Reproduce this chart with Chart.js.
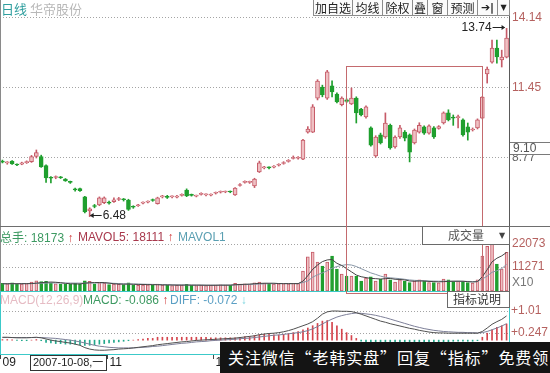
<!DOCTYPE html>
<html><head><meta charset="utf-8">
<script src="https://cdn.jsdelivr.net/npm/chart.js@4.4.1/dist/chart.umd.min.js"></script>
<style>
html,body{margin:0;padding:0;background:#fff;}
#wrap{position:relative;width:550px;height:373px;overflow:hidden;font-family:"Liberation Sans",Arial,"Noto Sans CJK SC",sans-serif;}
#c{position:absolute;left:0;top:0;}
.t{position:absolute;white-space:nowrap;font-size:12px;line-height:14px;}
.cjk{font-family:"Noto Sans CJK SC",sans-serif;}
.btn{position:absolute;top:-1px;height:17px;box-sizing:border-box;border:1px solid #8c8c8c;background:#fbfbfb;font-family:"Noto Sans CJK SC",sans-serif;font-size:12px;line-height:15px;text-align:center;color:#222;}
.box{position:absolute;box-sizing:border-box;border:1px solid #6a6a6a;background:#fff;}
#banner{position:absolute;left:220px;top:342px;width:330px;height:31px;background:#141414;color:#fff;font-family:"Noto Sans CJK SC",sans-serif;font-size:16px;letter-spacing:0.9px;line-height:30px;padding-left:8px;box-sizing:border-box;white-space:nowrap;overflow:hidden;}
</style></head><body>
<div id="wrap">
<canvas id="c" width="550" height="373"></canvas>
<div class="t cjk" style="left:1px;top:1px;font-size:13px;line-height:16px;color:#2f9e9e;">日线</div>
<div class="t cjk" style="left:30px;top:1px;font-size:13px;line-height:16px;color:#b8b8b8;">华帝股份</div>
<div class="btn" style="left:313px;width:40px;">加自选</div>
<div class="btn" style="left:352px;width:31px;">均线</div>
<div class="btn" style="left:382px;width:31px;">除权</div>
<div class="btn" style="left:412px;width:16px;">叠</div>
<div class="btn" style="left:427px;width:21px;">窗</div>
<div class="btn" style="left:447px;width:31px;">预测</div>
<div class="btn" style="left:477px;width:21px;font-weight:bold;font-family:'DejaVu Sans';font-size:11px;">➔|</div>
<div class="btn" style="left:497px;width:13px;font-family:'DejaVu Sans';font-size:8px;">▼</div>

<div class="t" style="left:0px;top:230px;color:#3d9a62;"><span class="cjk">总手</span>: 18173<span style="color:#d03838;font-weight:bold;"> ↑</span></div>
<div class="t" style="left:78px;top:230px;color:#a8384c;">MAVOL5: 18111<span style="color:#d03838;font-weight:bold;"> ↑</span></div>
<div class="t" style="left:178px;top:230px;width:47px;overflow:hidden;color:#5a9fb2;">MAVOL10</div>

<div class="box" style="left:422px;top:226px;width:88px;height:19px;"></div>
<div class="t cjk" style="left:448px;top:228px;color:#555;">成交量</div>
<div class="t" style="left:499px;top:229px;color:#444;font-family:'DejaVu Sans';font-size:8px;">▼</div>

<div class="t" style="left:0px;top:293px;color:#e6bcc4;">MACD(12,26,9)</div>
<div class="t" style="left:83px;top:293px;color:#3d9a62;">MACD: -0.086<span style="color:#d03838;font-weight:bold;"> ↑</span></div>
<div class="t" style="left:170px;top:293px;color:#5a9fc4;">DIFF: -0.072<span style="color:#7fd6e0;font-weight:bold;"> ↓</span></div>

<div class="box" style="left:447px;top:291px;width:63px;height:17px;"></div>
<div class="t cjk" style="left:453px;top:292px;color:#333;">指标说明</div>

<div id="banner">关注微信“老韩实盘”回复“指标”免费领</div>
</div>
<script>
// ---- data ----
const opens = [8.60,8.55,8.62,8.48,8.50,8.56,8.60,8.80,8.80,8.45,
 7.97,7.99,8.00,7.93,7.82,7.52,7.56,7.24,6.70,6.88,
 6.93,7.02,7.02,7.06,7.14,7.15,7.12,6.86,6.90,7.00,
 7.04,7.12,6.98,7.24,7.26,7.24,7.23,7.30,7.50,7.31,
 7.27,7.34,7.32,7.31,7.38,7.42,7.43,7.44,7.32,7.68,
 7.80,7.80,7.66,8.20,8.36,8.37,8.39,8.46,8.53,8.61,
 8.72,8.73,8.70,9.74,9.74,11.05,11.48,11.05,11.52,11.21,
 10.80,10.98,10.83,11.05,10.63,10.32,9.90,8.82,9.63,9.55,
 10.00,9.17,9.55,9.74,9.63,9.32,9.74,9.94,9.70,9.90,
 9.88,10.09,10.48,10.32,10.30,10.21,9.94,9.82,9.90,10.28,
 11.98,12.44,12.98,12.52,12.63];
const closes = [8.58,8.56,8.51,8.47,8.55,8.60,8.80,8.95,8.40,7.97,
 7.96,8.00,7.98,7.86,7.80,7.51,7.48,6.66,6.78,6.87,
 7.20,7.20,7.00,7.13,7.14,7.13,6.76,6.84,6.91,7.01,
 7.05,7.10,7.20,7.25,7.22,7.24,7.26,7.32,7.28,7.30,
 7.27,7.36,7.32,7.33,7.40,7.43,7.44,7.43,7.58,7.71,
 7.82,7.81,7.93,8.55,8.38,8.36,8.41,8.48,8.56,8.64,
 8.76,8.77,9.43,9.86,10.71,11.71,11.17,12.06,11.29,10.90,
 11.05,10.92,11.05,10.48,10.40,10.71,9.24,9.55,9.32,10.09,
 9.13,9.55,9.90,9.51,8.97,9.82,10.00,9.70,9.98,9.55,
 9.95,10.48,10.21,10.28,10.33,9.63,9.74,9.86,10.21,11.09,
 12.17,12.98,12.64,12.63,13.37];
const highs = [8.66,8.60,8.64,8.52,8.58,8.63,8.84,9.05,8.85,8.48,
 8.02,8.05,8.03,7.95,7.85,7.58,7.58,7.26,6.82,6.95,
 7.24,7.24,7.08,7.20,7.22,7.18,7.15,6.90,6.95,7.05,
 7.09,7.16,7.23,7.30,7.30,7.28,7.30,7.36,7.55,7.35,
 7.31,7.40,7.36,7.36,7.43,7.47,7.47,7.47,7.60,7.75,
 7.86,7.85,7.96,8.62,8.42,8.40,8.45,8.52,8.60,8.68,
 8.82,8.80,9.46,9.95,10.80,11.76,11.55,12.12,11.72,11.25,
 11.10,11.02,11.44,11.10,10.66,10.75,9.94,9.60,9.70,10.48,
 10.05,9.60,10.00,9.80,9.67,9.86,10.10,9.98,10.02,9.95,
 9.99,10.52,10.60,10.40,10.40,10.25,10.09,9.90,10.25,11.12,
 12.25,13.29,13.29,12.90,13.74];
const lows = [8.55,8.50,8.49,8.44,8.48,8.53,8.57,8.74,8.38,7.80,
 7.78,7.94,7.95,7.84,7.76,7.46,7.45,6.62,6.48,6.82,
 6.90,6.98,6.96,7.03,7.10,7.08,6.72,6.80,6.87,6.97,
 7.01,7.07,6.96,7.20,7.18,7.20,7.20,7.27,7.25,7.27,
 7.24,7.31,7.28,7.28,7.35,7.39,7.40,7.40,7.30,7.65,
 7.77,7.76,7.60,8.18,8.32,8.32,8.36,8.43,8.50,8.58,
 8.70,8.70,8.68,9.70,9.72,10.98,11.10,11.00,11.10,10.86,
 10.75,10.88,10.80,10.09,10.36,10.28,9.20,8.77,9.28,9.50,
 9.08,9.12,9.50,9.40,8.59,9.28,9.70,9.65,9.66,9.50,
 9.85,10.05,10.17,10.00,9.90,9.58,9.43,9.78,9.86,10.25,
 11.63,12.40,12.40,12.25,12.60];
const volumes = [3600,3400,3800,3200,3300,3500,4200,4800,4400,4600,
 3800,3400,3200,3300,3100,3600,3400,4800,4500,3400,
 3900,3600,3000,3200,3100,3000,3800,2800,2700,2800,
 2900,2800,3200,2800,2700,2600,2700,2800,3100,2700,
 2600,2700,2600,2700,2800,2900,2800,2700,3600,3200,
 3400,3200,3800,4200,3600,3500,3300,3400,3500,3400,
 3600,3500,9400,16000,18300,13600,11700,13600,16400,10300,
 8000,7000,7000,7000,4700,6100,6600,4700,5600,8000,
 5200,4200,5200,4700,4000,4700,5200,4500,4000,4000,
 3800,5600,5200,4500,4700,4500,4000,3700,5200,16400,
 21000,22000,12700,10300,18200];
const mavol5 = [3400,3400,3450,3400,3450,3450,3500,3700,3900,4100,
 4200,4100,3900,3600,3400,3300,3300,3650,3900,3950,
 4000,3950,3700,3400,3250,3200,3250,3150,3100,3050,
 3000,2950,2950,2850,2850,2800,2750,2750,2800,2750,
 2750,2750,2700,2700,2700,2750,2750,2750,2950,3050,
 3150,3250,3450,3550,3650,3650,3650,3500,3450,3450,
 3450,3450,4650,7200,10200,12200,13800,14600,14800,13000,
 12000,10500,9000,7500,6700,6300,5900,5800,5600,5800,
 5900,5500,5400,5200,4700,4600,4700,4700,4500,4400,
 4300,4400,4500,4600,4600,4600,4400,4200,4400,6700,
 10000,13700,15400,16500,18100];
const mavol10 = [3400,3400,3420,3420,3440,3450,3480,3540,3620,3700,
 3780,3800,3780,3760,3740,3720,3700,3700,3720,3760,
 3800,3800,3700,3600,3500,3400,3350,3300,3250,3200,
 3150,3100,3050,3000,2950,2900,2880,2850,2830,2800,
 2780,2760,2740,2730,2730,2740,2750,2760,2850,2950,
 3000,3050,3150,3250,3350,3400,3450,3500,3500,3500,
 3500,3500,4000,4700,6500,7600,8500,9500,10700,11500,
 12000,12400,12200,11500,10500,9500,8500,7800,7000,6400,
 6200,6000,5800,5500,5200,5000,4900,4800,4700,4650,
 4600,4600,4600,4550,4550,4500,4500,4450,4500,5600,
 7000,8800,9500,10500,12500];
const diffLine = [0.10,0.10,0.09,0.08,0.08,0.08,0.09,0.10,0.08,0.04,
 0.00,-0.03,-0.05,-0.08,-0.10,-0.14,-0.18,-0.26,-0.31,-0.34,
 -0.35,-0.35,-0.34,-0.33,-0.31,-0.30,-0.29,-0.27,-0.25,-0.23,
 -0.21,-0.19,-0.16,-0.14,-0.12,-0.10,-0.08,-0.06,-0.05,-0.03,
 -0.01,0.00,0.01,0.02,0.03,0.04,0.05,0.06,0.07,0.09,
 0.11,0.13,0.15,0.19,0.21,0.23,0.24,0.26,0.29,0.33,
 0.38,0.44,0.50,0.56,0.64,0.76,0.90,0.98,1.01,1.01,
 1.00,1.00,0.99,0.95,0.90,0.84,0.78,0.72,0.66,0.62,
 0.57,0.53,0.49,0.45,0.41,0.38,0.34,0.31,0.28,0.26,
 0.25,0.25,0.24,0.24,0.24,0.24,0.24,0.24,0.24,0.30,
 0.42,0.55,0.64,0.72,0.84];
const deaLine = [0.09,0.09,0.09,0.09,0.09,0.09,0.09,0.09,0.09,0.08,
 0.07,0.06,0.04,0.02,0.00,-0.03,-0.06,-0.10,-0.14,-0.18,
 -0.21,-0.23,-0.25,-0.26,-0.27,-0.27,-0.27,-0.27,-0.26,-0.25,
 -0.24,-0.22,-0.21,-0.19,-0.17,-0.15,-0.13,-0.11,-0.10,-0.08,
 -0.06,-0.05,-0.04,-0.02,-0.01,0.00,0.01,0.02,0.03,0.05,
 0.06,0.07,0.09,0.11,0.13,0.15,0.17,0.18,0.20,0.22,
 0.24,0.26,0.29,0.33,0.39,0.47,0.56,0.65,0.73,0.80,
 0.85,0.89,0.92,0.94,0.93,0.91,0.89,0.86,0.82,0.78,
 0.73,0.68,0.63,0.58,0.53,0.48,0.44,0.40,0.37,0.34,
 0.32,0.30,0.29,0.28,0.27,0.27,0.26,0.26,0.25,0.26,
 0.30,0.36,0.42,0.49,0.57];
const macdBars = [0.02,0.02,0.01,-0.01,-0.02,-0.02,0.00,0.02,-0.02,-0.08,
 -0.10,-0.12,-0.12,-0.14,-0.14,-0.14,-0.16,-0.18,-0.18,-0.16,
 -0.14,-0.12,-0.10,-0.08,-0.06,-0.04,-0.02,0.00,0.02,0.04,
 0.06,0.06,0.10,0.10,0.10,0.10,0.10,0.10,0.10,0.10,
 0.10,0.10,0.10,0.08,0.08,0.08,0.08,0.08,0.08,0.10,
 0.12,0.12,0.16,0.18,0.20,0.20,0.18,0.18,0.20,0.22,
 0.26,0.30,0.36,0.42,0.50,0.58,0.66,0.68,0.62,0.50,
 0.38,0.26,0.16,0.06,-0.04,-0.10,-0.16,-0.20,-0.24,-0.22,
 -0.22,-0.20,-0.18,-0.16,-0.16,-0.14,-0.12,-0.10,-0.10,-0.08,
 -0.08,-0.06,-0.06,-0.04,-0.04,-0.04,-0.04,-0.04,-0.02,0.10,
 0.24,0.36,0.44,0.50,0.56];
const categories = opens.map((_, i) => String(i));
const priceTicks = [14.14, 11.45, 8.77];
const volTicks = [22073, 11271];
const macdTicks = [1.01, 0.247];
const currentPrice = 9.10;
const monthIdx = [0, 22, 44];
const monthLabels = ['09', '11', '12'];
const cursorIdx = 6;
const cursorLabel = '2007-10-08,一';
const highMarkIdx = 104, highMark = 13.74;
const lowMarkIdx = 18, lowMark = 6.48;
const boxFrom = 70.9, boxTo = 98.9, boxTop = 12.29;

// ---- styles ----
const UP_FILL = '#efc0c3', UP_LINE = '#c65b68', DN = '#1f9f2e';
const AXIS_RED = '#b5615f';
const isUp = opens.map((o, i) => closes[i] >= o);

Chart.defaults.font.family = '"Liberation Sans", Arial, sans-serif';
const fitRight = s => { s.width = 41; s.paddingTop = 0; s.paddingBottom = 0; };
const gridOpts = { color: '#a4a4a4', lineWidth: 1, drawTicks: false };
const borderOpts = { display: true, color: '#5a5a5a', width: 1, dash: [1, 2] };

const decor = {
  id: 'decor',
  afterDraw(chart) {
    const { ctx, chartArea: ca, scales } = chart;
    const x = scales.x, yP = scales.yP, yV = scales.yV, yM = scales.yM;
    ctx.save();
    ctx.lineWidth = 1;
    ctx.strokeStyle = '#8a8a8a';
    ctx.beginPath(); ctx.moveTo(0.5, 0); ctx.lineTo(0.5, yV.bottom); ctx.stroke();
    ctx.strokeStyle = '#6e6e6e';
    ctx.beginPath(); ctx.moveTo(0, Math.round(yP.bottom) + 0.5); ctx.lineTo(550, Math.round(yP.bottom) + 0.5); ctx.stroke();
    ctx.strokeStyle = '#3cc9c9';
    ctx.strokeRect(0.5, Math.round(yM.top) + 0.5, Math.round(ca.right), Math.round(yM.bottom - yM.top));
    // highlight rectangle
    const rl = Math.round(x.getPixelForValue(boxFrom)) + 0.5;
    const rr = Math.round(x.getPixelForValue(boxTo)) + 0.5;
    const rt = Math.round(yP.getPixelForValue(boxTop)) + 0.5;
    const rb = Math.round(yV.bottom) + 2.5;
    ctx.strokeStyle = '#c46a6e';
    ctx.strokeRect(rl, rt, rr - rl, rb - rt);
    // high / low marks
    ctx.fillStyle = '#222'; ctx.strokeStyle = '#222';
    ctx.font = '12px "Liberation Sans", Arial';
    ctx.textBaseline = 'middle';
    let px = x.getPixelForValue(highMarkIdx), py = Math.round(yP.getPixelForValue(highMark)) - 0.5;
    ctx.textAlign = 'right';
    ctx.fillText(highMark.toFixed(2), px - 15, py);
    ctx.beginPath(); ctx.moveTo(px - 14, py); ctx.lineTo(px - 2, py); ctx.stroke();
    ctx.beginPath(); ctx.moveTo(px - 1.5, py); ctx.lineTo(px - 5, py - 2.5); ctx.lineTo(px - 5, py + 2.5); ctx.closePath(); ctx.fill();
    px = x.getPixelForValue(lowMarkIdx); py = Math.round(yP.getPixelForValue(lowMark)) - 1.5;
    ctx.textAlign = 'left';
    ctx.fillText(lowMark.toFixed(2), px + 13, py);
    ctx.beginPath(); ctx.moveTo(px + 1, py); ctx.lineTo(px + 12, py); ctx.stroke();
    ctx.beginPath(); ctx.moveTo(px, py); ctx.lineTo(px + 4, py - 2.5); ctx.lineTo(px + 4, py + 2.5); ctx.closePath(); ctx.fill();
    // current price box on axis
    const cy = yP.getPixelForValue(currentPrice);
    ctx.fillStyle = '#fff';
    ctx.fillRect(ca.right + 1, Math.round(cy) - 6, 39, 12);
    ctx.strokeStyle = '#7a7a7a';
    ctx.beginPath(); ctx.moveTo(ca.right + 1, Math.round(cy) - 6.5); ctx.lineTo(550, Math.round(cy) - 6.5);
    ctx.moveTo(ca.right + 1, Math.round(cy) + 5.5); ctx.lineTo(550, Math.round(cy) + 5.5); ctx.stroke();
    ctx.fillStyle = '#555'; ctx.textAlign = 'left';
    ctx.fillText(currentPrice.toFixed(2), ca.right + 4, cy);
    // volume unit
    ctx.fillStyle = '#777';
    ctx.fillText('X10', ca.right + 3, yV.bottom - 8);
    // axis separator
    ctx.strokeStyle = '#5a5a5a';
    ctx.beginPath(); ctx.moveTo(Math.round(ca.right) + 0.5, 17); ctx.lineTo(Math.round(ca.right) + 0.5, yM.top); ctx.stroke();
    // date axis
    const half = (x.getPixelForValue(1) - x.getPixelForValue(0)) / 2;
    ctx.fillStyle = '#222'; ctx.strokeStyle = '#444';
    ctx.textBaseline = 'middle'; ctx.textAlign = 'left';
    ctx.font = '12px "Liberation Sans", Arial';
    monthIdx.forEach((idx, k) => {
      const tx = Math.round(x.getPixelForValue(idx) - half) + 0.5;
      ctx.beginPath(); ctx.moveTo(tx, yM.bottom + 1); ctx.lineTo(tx, yM.bottom + 5); ctx.stroke();
      ctx.fillText(monthLabels[k], tx + 2, yM.bottom + 9);
    });
    ctx.font = '11px "Liberation Sans", "Noto Sans CJK SC", Arial';
    const bx = Math.round(x.getPixelForValue(cursorIdx) - half) + 1.5;
    const bw = Math.ceil(ctx.measureText(cursorLabel).width) + 5;
    ctx.fillStyle = '#fff'; ctx.fillRect(bx, yM.bottom + 1, bw, 15);
    ctx.strokeStyle = '#333'; ctx.strokeRect(bx, yM.bottom + 1.5, bw, 15);
    ctx.fillStyle = '#222';
    ctx.fillText(cursorLabel, bx + 2.5, yM.bottom + 9);
    ctx.restore();
  }
};

new Chart(document.getElementById('c'), {
  type: 'bar',
  data: {
    labels: categories,
    datasets: [
      { label: 'wick', data: lows.map((l, i) => [l, highs[i]]), yAxisID: 'yP',
        backgroundColor: isUp.map(u => u ? UP_LINE : DN), barThickness: 1, grouped: false, order: 3 },
      { label: 'body', data: opens.map((o, i) => [o, closes[i]]), yAxisID: 'yP',
        backgroundColor: isUp.map(u => u ? UP_FILL : DN), borderColor: isUp.map(u => u ? UP_LINE : DN),
        borderWidth: 1, borderSkipped: false, barThickness: 4, minBarLength: 1, grouped: false, order: 1 },
      { label: 'vol', data: volumes, yAxisID: 'yV',
        backgroundColor: isUp.map(u => u ? UP_FILL : DN), borderColor: isUp.map(u => u ? UP_LINE : DN),
        borderWidth: 1, borderSkipped: false, barThickness: 3, grouped: false, order: 4 },
      { type: 'line', label: 'MAVOL5', data: mavol5, yAxisID: 'yV', borderColor: '#444', borderWidth: 1, pointRadius: 0, order: 0 },
      { type: 'line', label: 'MAVOL10', data: mavol10, yAxisID: 'yV', borderColor: '#8896a6', borderWidth: 1, pointRadius: 0, order: 0 },
      { label: 'MACD', data: macdBars, yAxisID: 'yM',
        backgroundColor: macdBars.map(v => v >= 0 ? '#d4444c' : '#22a88c'), barThickness: 1, grouped: false, order: 4 },
      { type: 'line', label: 'DIFF', data: diffLine, yAxisID: 'yM', borderColor: '#505050', borderWidth: 1, pointRadius: 0, order: 0 },
      { type: 'line', label: 'DEA', data: deaLine, yAxisID: 'yM', borderColor: '#7d7f98', borderWidth: 1, pointRadius: 0, order: 0 }
    ]
  },
  options: {
    responsive: false, animation: false, events: [], devicePixelRatio: 1,
    layout: { padding: { top: 0, left: 0, right: 0, bottom: 19 } },
    plugins: { legend: { display: false }, tooltip: { enabled: false } },
    scales: {
      x: { type: 'category', display: false, offset: true, grid: { display: false } },
      yP: { position: 'right', stack: 'panes', stackWeight: 226, min: 6.118, max: 14.834,
        afterFit: fitRight, afterBuildTicks: s => { s.ticks = priceTicks.map(v => ({ value: v })); },
        grid: gridOpts, border: borderOpts,
        ticks: { autoSkip: false, padding: 3, font: { size: 12 }, color: c => c.tick && c.tick.value === 8.77 ? '#666' : AXIS_RED,
          callback: v => Number(v).toFixed(2) } },
      yV: { position: 'right', stack: 'panes', stackWeight: 65, min: 0, max: 30527,
        afterFit: fitRight, afterBuildTicks: s => { s.ticks = volTicks.map(v => ({ value: v })); },
        grid: gridOpts, border: borderOpts,
        ticks: { autoSkip: false, padding: 3, font: { size: 12 }, color: AXIS_RED, callback: v => String(v) } },
      yM: { position: 'right', stack: 'panes', stackWeight: 63, min: -0.481, max: 1.704,
        afterFit: fitRight, afterBuildTicks: s => { s.ticks = macdTicks.map(v => ({ value: v })); },
        grid: gridOpts, border: { display: true, color: '#3cc9c9', width: 1, dash: [1, 2] },
        ticks: { autoSkip: false, padding: 2, font: { size: 12 }, color: AXIS_RED, callback: v => '+' + v } }
    }
  },
  plugins: [decor]
});
</script>
</body></html>
